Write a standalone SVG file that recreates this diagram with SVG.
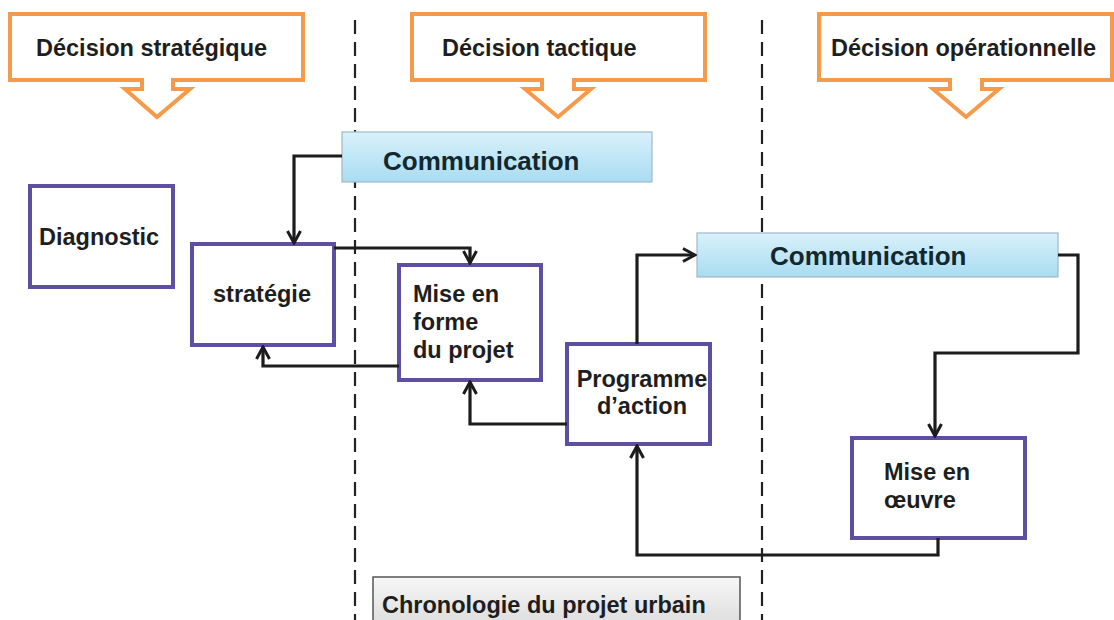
<svg xmlns="http://www.w3.org/2000/svg" width="1114" height="620" viewBox="0 0 1114 620">
<defs>
<linearGradient id="gBlue" x1="0" y1="0" x2="0" y2="1">
<stop offset="0" stop-color="#d9f1fb"/>
<stop offset="1" stop-color="#a9dcf1"/>
</linearGradient>
<linearGradient id="gGray" x1="0" y1="0" x2="0" y2="1">
<stop offset="0" stop-color="#f7f7f7"/>
<stop offset="1" stop-color="#dcdcdc"/>
</linearGradient>
<marker id="arr" viewBox="0 0 16 16" refX="14" refY="8" markerWidth="16" markerHeight="16" markerUnits="userSpaceOnUse" orient="auto">
<path d="M2,1.5 L14,8 L2,14.5" fill="none" stroke="#1c1c1c" stroke-width="3"/>
</marker>
</defs>
<style>
.callout{fill:#ffffff;stroke:#f59a4a;stroke-width:4;stroke-linejoin:miter}
.box{fill:#ffffff;stroke:#5e4fa2;stroke-width:4}
.comm{fill:url(#gBlue);stroke:#9fb9c6;stroke-width:1.2}
.chrono{fill:url(#gGray);stroke:#555;stroke-width:1.5}
.t{font-family:"Liberation Sans",Arial,sans-serif;font-weight:bold;font-size:23.5px;fill:#1e1e1e}
.tc{font-family:"Liberation Sans",Arial,sans-serif;font-weight:bold;font-size:26px;fill:#12282e}
.dash{stroke:#222;stroke-width:2.2;stroke-dasharray:14 8;fill:none}
.c{fill:none;stroke:#1c1c1c;stroke-width:3.2;marker-end:url(#arr)}
</style>
<rect width="1114" height="620" fill="#ffffff"/>

<g id="dividers">
<line class="dash" x1="355" y1="20" x2="355" y2="620"/>
<line class="dash" x1="762" y1="20" x2="762" y2="620"/>
</g>

<g id="callout-strategique">
<path class="callout" d="M10,14 H303 V80 H173 V89 H190 L157,117 L125,89 H142 V80 H10 Z"/>
<text class="t" x="36" y="56">Décision stratégique</text>
</g>
<g id="callout-tactique">
<path class="callout" d="M412,14 H705 V80 H574 V89 H591 L558,117 L525,89 H542 V80 H412 Z"/>
<text class="t" x="442" y="56">Décision tactique</text>
</g>
<g id="callout-operationnelle">
<path class="callout" d="M819,14 H1112 V80 H982 V89 H999 L966,117 L933,89 H950 V80 H819 Z"/>
<text class="t" x="831" y="56">Décision opérationnelle</text>
</g>

<g id="communication-1">
<rect class="comm" x="342" y="132" width="310" height="50"/>
<text class="tc" x="383" y="170">Communication</text>
</g>
<g id="communication-2">
<rect class="comm" x="697" y="233" width="361" height="44"/>
<text class="tc" x="770" y="265">Communication</text>
</g>

<g id="diagnostic">
<rect class="box" x="30" y="186" width="143" height="101"/>
<text class="t" x="39" y="245">Diagnostic</text>
</g>
<g id="strategie">
<rect class="box" x="192" y="244" width="142" height="101"/>
<text class="t" x="213" y="302">stratégie</text>
</g>
<g id="mise-en-forme">
<rect class="box" x="399" y="265" width="142" height="115"/>
<text class="t" x="413" y="302">Mise en<tspan x="413" dy="28">forme</tspan><tspan x="413" dy="28">du projet</tspan></text>
</g>
<g id="programme">
<rect class="box" x="567" y="344" width="143" height="100"/>
<text class="t" x="642" y="387" text-anchor="middle">Programme<tspan x="642" dy="27">d’action</tspan></text>
</g>
<g id="mise-en-oeuvre">
<rect class="box" x="852" y="438" width="173" height="100"/>
<text class="t" x="884" y="480">Mise en<tspan x="884" dy="28">œuvre</tspan></text>
</g>

<g id="chronologie">
<rect class="chrono" x="373" y="577" width="367" height="50"/>
<text class="t" x="382" y="613">Chronologie du projet urbain</text>
</g>

<g id="connectors">
<path class="c" d="M342,156 H294 V243"/>
<path class="c" d="M334,248 H470 V263"/>
<path class="c" d="M399,366 H263 V347"/>
<path class="c" d="M567,424 H470 V382"/>
<path class="c" d="M637,344 V255 H695"/>
<path class="c" d="M1058,255 H1078 V353 H935 V436"/>
<path class="c" d="M938,538 V555 H637 V446"/>
</g>
</svg>
